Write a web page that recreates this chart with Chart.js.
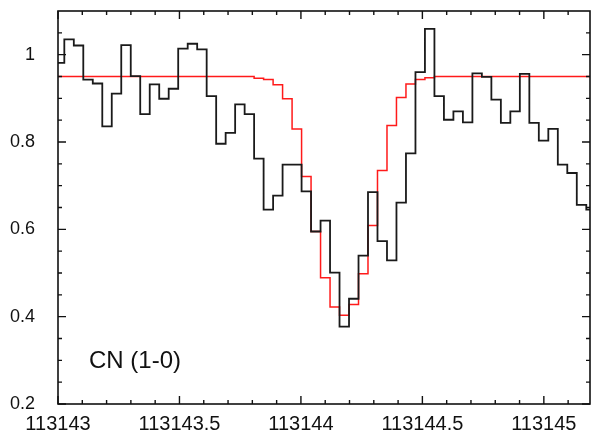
<!DOCTYPE html>
<html><head><meta charset="utf-8">
<script src="https://cdn.jsdelivr.net/npm/chart.js@4.4.1/dist/chart.umd.min.js"></script>
<style>html,body{margin:0;padding:0;background:#fff;}#wrap{width:592px;height:432px;}</style>
</head><body><div id="wrap"><canvas id="c" width="592" height="432"></canvas></div>
<script>
// channel left edges (MHz); the last entry is the right edge of the last channel
const channelEdges = [113142.9479, 113142.9869, 113143.0260, 113143.0651, 113143.1041, 113143.1432, 113143.1823, 113143.2213, 113143.2604, 113143.2995, 113143.3385, 113143.3776, 113143.4167, 113143.4557, 113143.4948, 113143.5339, 113143.5729, 113143.6120, 113143.6511, 113143.6901, 113143.7292, 113143.7683, 113143.8073, 113143.8464, 113143.8855, 113143.9245, 113143.9636, 113144.0027, 113144.0417, 113144.0808, 113144.1199, 113144.1589, 113144.1980, 113144.2371, 113144.2761, 113144.3152, 113144.3543, 113144.3933, 113144.4324, 113144.4715, 113144.5105, 113144.5496, 113144.5887, 113144.6277, 113144.6668, 113144.7059, 113144.7449, 113144.7840, 113144.8231, 113144.8621, 113144.9012, 113144.9403, 113144.9793, 113145.0184, 113145.0575, 113145.0965, 113145.1356, 113145.1747, 113145.2137];
// observed normalized spectrum (black)
const observed = [1.003, 0.981, 1.035, 1.021, 0.943, 0.934, 0.836, 0.911, 1.022, 0.951, 0.864, 0.932, 0.899, 0.922, 1.014, 1.025, 1.012, 0.905, 0.796, 0.821, 0.886, 0.864, 0.762, 0.645, 0.677, 0.748, 0.748, 0.687, 0.595, 0.620, 0.501, 0.377, 0.441, 0.540, 0.685, 0.573, 0.529, 0.661, 0.774, 0.960, 1.059, 0.905, 0.851, 0.870, 0.845, 0.957, 0.949, 0.897, 0.844, 0.870, 0.956, 0.844, 0.803, 0.830, 0.748, 0.729, 0.656, 0.645];
// model fit (red)
const model = [0.95, 0.95, 0.95, 0.95, 0.95, 0.95, 0.95, 0.95, 0.95, 0.95, 0.95, 0.95, 0.95, 0.95, 0.95, 0.95, 0.95, 0.95, 0.95, 0.95, 0.95, 0.95, 0.946, 0.943, 0.931, 0.899, 0.830, 0.721, 0.595, 0.489, 0.422, 0.403, 0.428, 0.498, 0.609, 0.735, 0.838, 0.902, 0.933, 0.943, 0.947, 0.95, 0.95, 0.95, 0.95, 0.95, 0.95, 0.95, 0.95, 0.95, 0.95, 0.95, 0.95, 0.95, 0.95, 0.95, 0.95, 0.95];
const xMajorTicks = [113143, 113143.5, 113144, 113144.5, 113145];
const xMinorTicks = [113143.1, 113143.2, 113143.3, 113143.4, 113143.6, 113143.7, 113143.8, 113143.9, 113144.1, 113144.2, 113144.3, 113144.4, 113144.6, 113144.7, 113144.8, 113144.9, 113145.1];
const yMajorTicks = [0.2, 0.4, 0.6, 0.8, 1];
const yMinorTicks = [0.25, 0.3, 0.35, 0.45, 0.5, 0.55, 0.65, 0.7, 0.75, 0.85, 0.9, 0.95, 1.05];
const lineLabel = 'CN (1-0)';

function stepPoints(vals){
  const pts = vals.map((v,i)=>({x: channelEdges[i], y: v}));
  pts.push({x: channelEdges[vals.length], y: vals[vals.length-1]});
  return pts;
}

const FONT = 'Liberation Sans, Arial, Helvetica, sans-serif';

const decor = {
  id: 'decor',
  afterDatasetsDraw(chart){
    const {ctx, chartArea: a, scales: {x, y}} = chart;
    ctx.save();
    ctx.strokeStyle = '#111';
    ctx.lineWidth = 1.4;
    ctx.beginPath();
    const xt = (v, len) => { const p = x.getPixelForValue(v);
      ctx.moveTo(p, a.bottom); ctx.lineTo(p, a.bottom - len);
      ctx.moveTo(p, a.top); ctx.lineTo(p, a.top + len); };
    const yt = (v, len) => { const p = y.getPixelForValue(v);
      ctx.moveTo(a.left, p); ctx.lineTo(a.left + len, p);
      ctx.moveTo(a.right, p); ctx.lineTo(a.right - len, p); };
    xMajorTicks.forEach(v => xt(v, 8));
    xMinorTicks.forEach(v => xt(v, 4));
    yMajorTicks.forEach(v => yt(v, 8));
    yMinorTicks.forEach(v => yt(v, 4));
    ctx.stroke();
    ctx.lineWidth = 1.6;
    ctx.strokeRect(a.left, a.top, a.right - a.left, a.bottom - a.top);
    ctx.fillStyle = '#111';
    ctx.font = '24px ' + FONT;
    ctx.textBaseline = 'middle';
    ctx.textAlign = 'left';
    ctx.fillText(lineLabel, a.left + 31, a.bottom - 43);
    ctx.restore();
  }
};

new Chart(document.getElementById('c'), {
  type: 'line',
  data: {
    datasets: [
      { data: stepPoints(observed), borderColor: '#1a1a1a', borderWidth: 1.8, stepped: 'before', pointRadius: 0, fill: false, clip: 0 },
      { data: stepPoints(model), borderColor: '#ff1a1a', borderWidth: 1.5, stepped: 'before', pointRadius: 0, fill: false, clip: 0 }
    ]
  },
  options: {
    responsive: false,
    devicePixelRatio: 1,
    animation: false,
    layout: { padding: { top: 11, right: 2, left: 0, bottom: 0 } },
    plugins: { legend: { display: false }, tooltip: { enabled: false } },
    scales: {
      x: {
        type: 'linear', min: 113143, max: 113145.19,
        grid: { display: false, drawTicks: false },
        border: { display: false },
        afterBuildTicks: s => { s.ticks = xMajorTicks.map(v => ({ value: v })); },
        afterFit: s => { s.height = 28; s.paddingLeft = 0; s.paddingRight = 0; },
        ticks: { color: '#111', font: { family: FONT, size: 20 }, padding: 8, maxRotation: 0, autoSkip: false,
          callback: v => String(v) }
      },
      y: {
        type: 'linear', min: 0.2, max: 1.1,
        grid: { display: false, drawTicks: false },
        border: { display: false },
        afterBuildTicks: s => { s.ticks = yMajorTicks.map(v => ({ value: v })); },
        afterFit: s => { s.width = 58; s.paddingTop = 0; s.paddingBottom = 0; },
        ticks: { color: '#111', font: { family: FONT, size: 18 }, padding: 23,
          callback: v => String(v) }
      }
    }
  },
  plugins: [decor]
});
</script></body></html>
